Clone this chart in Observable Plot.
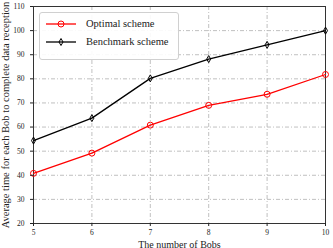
<!DOCTYPE html>
<html><head><meta charset="utf-8">
<script src="https://cdn.jsdelivr.net/npm/d3@7"></script>
<script src="https://cdn.jsdelivr.net/npm/@observablehq/plot@0.6"></script>
<style>
body{margin:0;background:#fff;}
#wrap{position:relative;width:333px;height:248px;font-family:'Liberation Serif',serif;}
#wrap svg text{font-family:'Liberation Serif',serif;}
#legend{position:absolute;left:39px;top:12px;width:138px;height:46px;border:1px solid #d0d0d0;border-radius:3px;background:rgba(255,255,255,0.9);font-size:10.5px;color:#222;font-family:'Liberation Serif',serif;white-space:nowrap;}
#legend .row{position:absolute;left:6px;display:flex;align-items:center;}
#legend svg{margin-right:10px;}
</style></head>
<body><div id="wrap"></div>
<script>
const bobs = [5, 6, 7, 8, 9, 10];
const optimal = [40.8, 49.2, 60.8, 69.0, 73.6, 81.8];
const benchmark = [54.4, 63.7, 80.2, 88.2, 94.1, 100.0];
const seriesNames = ["Optimal scheme", "Benchmark scheme"];
const seriesColors = ["#ff0000", "#000000"];
const yTicks = [20, 30, 40, 50, 60, 70, 80, 90, 100, 110];

const data = [];
bobs.forEach((b, i) => {
  data.push({x: b, y: optimal[i], s: seriesNames[0]});
  data.push({x: b, y: benchmark[i], s: seriesNames[1]});
});
const opt = data.filter(d => d.s === seriesNames[0]);
const ben = data.filter(d => d.s === seriesNames[1]);

const chart = Plot.plot({
  width: 333, height: 248,
  marginLeft: 33, marginRight: 8, marginTop: 6, marginBottom: 25,
  style: {fontSize: "7.5px", color: "#222", background: "#fff"},
  x: {domain: [5, 10]},
  y: {domain: [20, 110]},
  marks: [
    Plot.gridX(bobs, {stroke: "#b0b0b0", strokeOpacity: 1, strokeDasharray: "4,2,1,2", strokeWidth: 0.8}),
    Plot.gridY(yTicks, {stroke: "#b0b0b0", strokeOpacity: 1, strokeDasharray: "4,2,1,2", strokeWidth: 0.8}),
    Plot.frame({stroke: "#333", strokeWidth: 1}),
    Plot.line(opt, {x: "x", y: "y", stroke: seriesColors[0], strokeWidth: 1.3}),
    Plot.line(ben, {x: "x", y: "y", stroke: seriesColors[1], strokeWidth: 1.3}),
    Plot.dot(opt, {x: "x", y: "y", r: 3, stroke: seriesColors[0], fill: "none", strokeWidth: 1}),
    Plot.dot(ben, {x: "x", y: "y", r: 3.5, symbol: {draw(ctx, size){ const r=3.5; ctx.moveTo(0,-r); ctx.lineTo(2,0); ctx.lineTo(0,r); ctx.lineTo(-2,0); ctx.closePath(); }}, stroke: seriesColors[1], fill: "none", strokeWidth: 1}),
    Plot.axisX({ticks: bobs, tickSize: 3, tickFormat: d => String(d), label: null, tickPadding: 3}),
    Plot.axisY({ticks: yTicks, tickSize: 3, label: null}),
    Plot.axisX({ticks: [], label: "The number of Bobs", labelAnchor: "center", labelArrow: "none", labelOffset: 24, fontSize: 10}),
    Plot.axisY({ticks: [], label: "Average time for each Bob to complete data reception", labelAnchor: "center", labelArrow: "none", labelOffset: 32, fontSize: 10.5})
  ]
});
document.getElementById("wrap").appendChild(chart);

const legend = document.createElement("div");
legend.id = "legend";
const markerSvg = [
  '<svg width="30" height="10"><line x1="0" y1="5" x2="30" y2="5" stroke="' + seriesColors[0] + '" stroke-width="1.3"/><circle cx="15" cy="5" r="3" fill="none" stroke="' + seriesColors[0] + '"/></svg>',
  '<svg width="30" height="10"><line x1="0" y1="5" x2="30" y2="5" stroke="' + seriesColors[1] + '" stroke-width="1.3"/><path d="M15,1.5L17,5L15,8.5L13,5Z" fill="none" stroke="' + seriesColors[1] + '"/></svg>'
];
seriesNames.forEach((n, i) => {
  const row = document.createElement("div");
  row.className = "row";
  row.style.top = (5 + i * 18) + "px";
  row.innerHTML = markerSvg[i] + "<span>" + n + "</span>";
  legend.appendChild(row);
});
document.getElementById("wrap").appendChild(legend);
</script></body></html>
